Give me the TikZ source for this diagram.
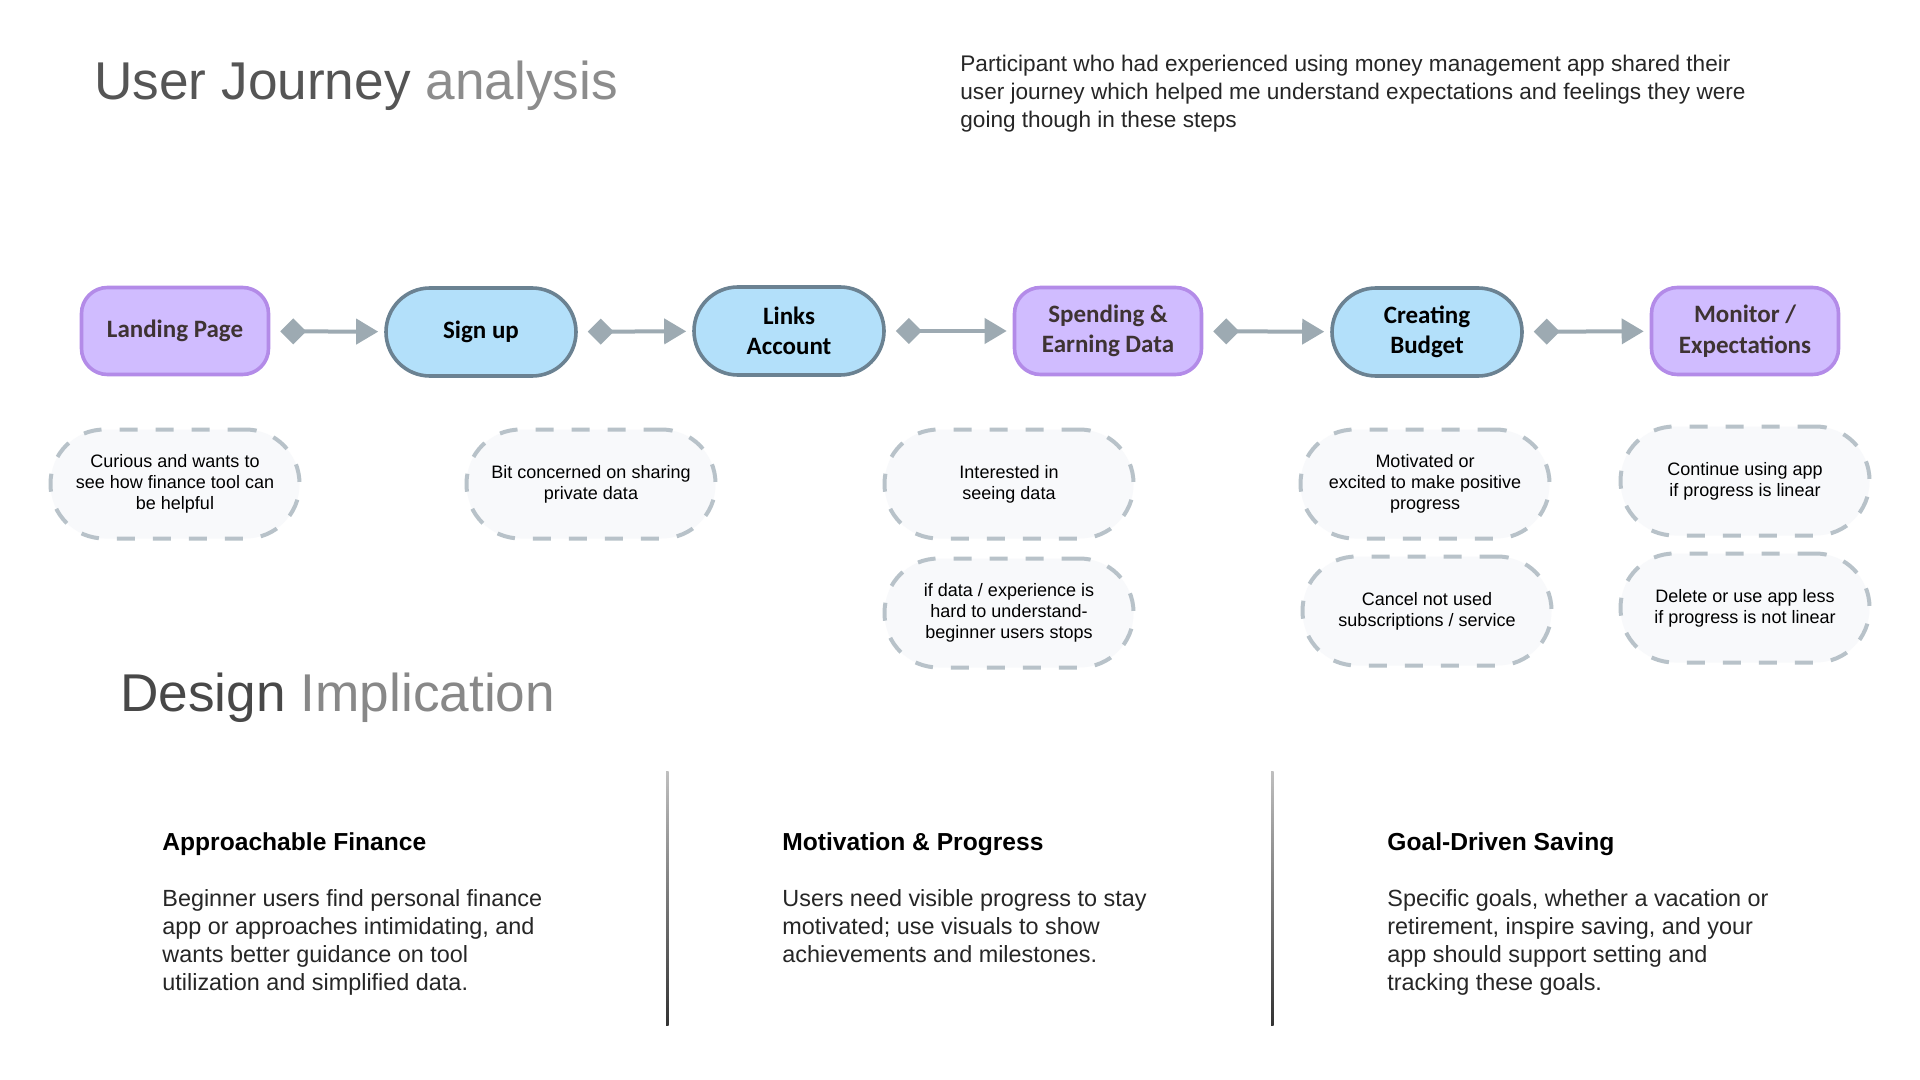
\documentclass[tikz,border=0pt]{standalone}
\usepackage{fontspec}
\setmainfont{Liberation Sans}
\newfontfamily\labelfont{Carlito}
\usetikzlibrary{arrows.meta}

\definecolor{stepviolet}{HTML}{D0BCFF}
\definecolor{stepvioletedge}{HTML}{B38BE8}
\definecolor{stepblue}{HTML}{B3E0FA}
\definecolor{stepblueedge}{HTML}{6B8292}
\definecolor{flowgray}{HTML}{9DAAB2}
\definecolor{feelfill}{HTML}{F8F9FB}
\definecolor{feeledge}{HTML}{B8C2C9}
\definecolor{titledark}{HTML}{555555}
\definecolor{titlelight}{HTML}{8C8C8C}
\definecolor{labelbrown}{HTML}{3E3333}

\begin{document}
\begin{tikzpicture}[x=0.5pt,y=-0.5pt,
    violetstep/.style={draw=stepvioletedge,fill=stepviolet,line width=1.8pt,
        rounded corners=13pt,minimum width=93.5pt,minimum height=43.5pt,
        inner sep=0pt,align=center,text=labelbrown,
        font=\labelfont\bfseries\fontsize{12.5}{15.3}\selectfont},
    bluestep/.style={draw=stepblueedge,fill=stepblue,line width=1.8pt,
        rounded corners=22pt,minimum width=95pt,minimum height=44pt,
        inner sep=0pt,align=center,text=black,
        font=\labelfont\bfseries\fontsize{12.5}{15.3}\selectfont},
    feeling/.style={draw=feeledge,fill=feelfill,line width=2pt,
        dash pattern=on 9pt off 9pt,rounded corners=27pt,
        minimum width=124.5pt,minimum height=54.5pt,inner sep=0pt,
        align=center,font=\fontsize{9}{10.4}\selectfont},
    flow/.style={draw=flowgray,line width=2pt,
        {Diamond[length=13pt,width=13pt]}-{Triangle[length=11pt,width=12.5pt]},
        shorten <=5pt,shorten >=3pt},
    heading/.style={anchor=base west,inner sep=0pt,font=\fontsize{26.6}{30}\selectfont},
    colhead/.style={anchor=base west,inner sep=0pt,font=\bfseries\fontsize{12.3}{14}\selectfont},
    colbody/.style={anchor=north west,inner sep=0pt,align=left,text=black!85,
        font=\fontsize{11.7}{14}\selectfont},
    divider/.style={top color=black!25,bottom color=black!80,draw=none}
    ]

    \fill[white] (0,0) rectangle (1920,1080);
    \useasboundingbox (0,0) rectangle (1920,1080);

    % The headings
    \node[heading] (journeytitle) at (94,100) {\textcolor{titledark}{User Journey} \textcolor{titlelight}{analysis}};
    \node[anchor=north west,inner sep=0pt,align=left,text=black!85,
        font=\fontsize{11.3}{14}\selectfont] (intro) at (960,55)
        {Participant who had experienced using money management app shared their\\
         user journey which helped me understand expectations and feelings they were\\
         going though in these steps};

    % The steps
    \node[violetstep] (landing) at (175,331) {Landing Page};
    \node[bluestep] (signup) at (481,332) {Sign up};
    \node[bluestep] (links) at (789,331) {Links\\Account};
    \node[violetstep] (spending) at (1108,331) {Spending \&\\Earning Data};
    \node[bluestep] (budget) at (1427,332) {Creating\\Budget};
    \node[violetstep] (monitor) at (1745,331) {Monitor /\\Expectations};

    \draw[flow] (landing) -- (signup);
    \draw[flow] (signup) -- (links);
    \draw[flow] (links) -- (spending);
    \draw[flow] (spending) -- (budget);
    \draw[flow] (budget) -- (monitor);

    % The feelings
    \node[feeling] (curious) at (175,484) {Curious and wants to\\see how finance tool can\\be helpful};
    \node[feeling] (concerned) at (591,484) {Bit concerned on sharing\\private data};
    \node[feeling] (interested) at (1009,484) {Interested in\\seeing data};
    \node[feeling] (hardstop) at (1009,613) {if data / experience is\\hard to understand-\\beginner users stops};
    \node[feeling] (motivated) at (1425,484) {Motivated or\\excited to make positive\\progress};
    \node[feeling] (cancel) at (1427,611) {Cancel not used\\subscriptions / service};
    \node[feeling] (continuing) at (1745,481) {Continue using app\\if progress is linear};
    \node[feeling] (deleting) at (1745,608) {Delete or use app less\\if progress is not linear};

    % The implications
    \node[heading] (designtitle) at (120,711) {\textcolor{titledark!85!black}{Design} \textcolor{titledark!70!white}{Implication}};

    \shade[divider] (666,771) rectangle (668.5,1025);
    \shade[divider] (1271,771) rectangle (1273.5,1025);

    \node[colhead] (financehead) at (162,850) {Approachable Finance};
    \node[colbody] (financetext) at (162,889)
        {Beginner users find personal finance\\app or approaches intimidating, and\\wants better guidance on tool\\utilization and simplified data.};
    \node[colhead] (progresshead) at (782,850) {Motivation \& Progress};
    \node[colbody] (progresstext) at (782,889)
        {Users need visible progress to stay\\motivated; use visuals to show\\achievements and milestones.};
    \node[colhead] (savinghead) at (1387,850) {Goal-Driven Saving};
    \node[colbody] (savingtext) at (1387,889)
        {Specific goals, whether a vacation or\\retirement, inspire saving, and your\\app should support setting and\\tracking these goals.};
\end{tikzpicture}
\end{document}
